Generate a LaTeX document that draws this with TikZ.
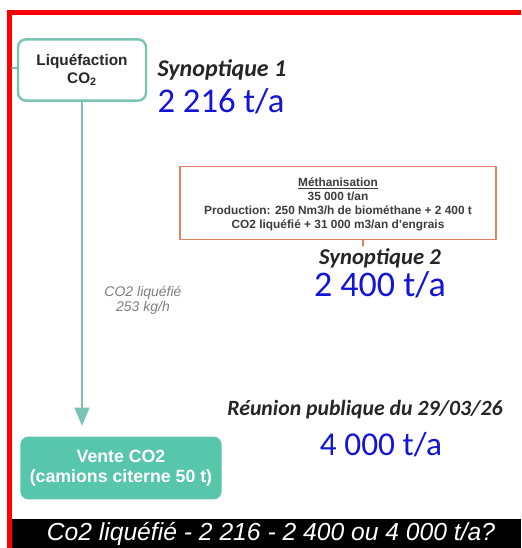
\documentclass[tikz,border=0pt]{standalone}
\usepackage{fontspec}
\setmainfont{Liberation Sans}
\newfontfamily\calib{Carlito}
\usetikzlibrary{arrows}
\definecolor{cadre}{RGB}{255,0,0}
\definecolor{vert}{RGB}{122,196,180}
\definecolor{vertfonce}{RGB}{88,198,170}
\definecolor{orangebord}{RGB}{228,128,98}
\definecolor{gristexte}{RGB}{60,60,60}
\definecolor{bleu}{RGB}{20,20,215}

\begin{document}
\begin{tikzpicture}[line cap=round,line join=round,>=triangle 45,x=0.75pt,y=-0.75pt,
        titre/.style={font=\calib\bfseries\itshape,text=black!85,inner sep=0pt},
        valeur/.style={font=\calib,text=bleu,inner sep=0pt},
        boite/.style={rounded corners=6pt,align=center,inner sep=0pt}]
                \useasboundingbox (0,0) rectangle (521,548);
                \fill [white] (0,0) rectangle (521,548);
                % cadre rouge
                \fill [cadre] (7,10) rectangle (521,15);
                \fill [cadre] (7,10) rectangle (12,548);
                \fill [black] (12,519) rectangle (521,548);
                % boites
                \node [boite,draw=vert,line width=1.8pt,fill=white,minimum width=96pt,minimum height=46pt,font=\bfseries\fontsize{11.5}{13}\selectfont,text=black!85] (liq) at (82,70) {Liqu\'efaction\\CO\textsubscript{2}};
                \node [boite,fill=vertfonce,minimum width=151pt,minimum height=47pt,font=\bfseries\fontsize{13.3}{15}\selectfont,text=white] (vente) at (121,468) {Vente CO2\\(camions citerne 50 t)};
                \node [draw=orangebord,line width=0.9pt,minimum width=237pt,minimum height=55pt,inner sep=0pt] (meth) at (338,203) {};
                \coordinate (stub) at (12,68);
                \coordinate (tick) at (363,246);
                \draw [vert,line width=1.2pt] (stub)-- (liq.west |- stub);
                \draw [->,vert,line width=2.2pt,shorten >=8pt] (liq.south)-- (liq.south |- vente.north);
                \draw [orangebord,line width=0.9pt] (meth.south -| tick)-- (tick);
                % textes
                \node [align=center,font=\bfseries\fontsize{8.9}{10.5}\selectfont,text=gristexte] (methtxt) at (338,204) {\underline{M\'ethanisation}\\35 000 t/an\\Production: 250 Nm3/h de biom\'ethane + 2 400 t\\CO2 liqu\'efi\'e + 31 000 m3/an d'engrais};
                \node [align=center,font=\itshape\fontsize{10.5}{11}\selectfont,text=black!50] (debit) at (143,300) {CO2 liqu\'efi\'e\\253 kg/h};
                \node [titre,font=\calib\bfseries\itshape\fontsize{18}{20}\selectfont] (syn1) at (222,70) {Synoptique 1};
                \node [valeur,font=\calib\fontsize{26}{28}\selectfont] (val1) at (221,101) {2 216 t/a};
                \node [titre,font=\calib\bfseries\itshape\fontsize{17}{20}\selectfont] (syn2) at (380,258) {Synoptique 2};
                \node [valeur,font=\calib\fontsize{27}{28}\selectfont] (val2) at (380,285) {2 400 t/a};
                \node [titre,font=\calib\bfseries\itshape\fontsize{16.3}{20}\selectfont] (reunion) at (365,410) {R\'eunion publique du 29/03/26};
                \node [valeur,font=\calib\fontsize{25}{28}\selectfont] (val3) at (381,445) {4 000 t/a};
                \node [font=\itshape\fontsize{18.5}{20}\selectfont,text=white,inner sep=0pt] (bas) at (271,534) {Co2 liqu\'efi\'e - 2 216 - 2 400 ou 4 000 t/a?};
\end{tikzpicture}
\end{document}
